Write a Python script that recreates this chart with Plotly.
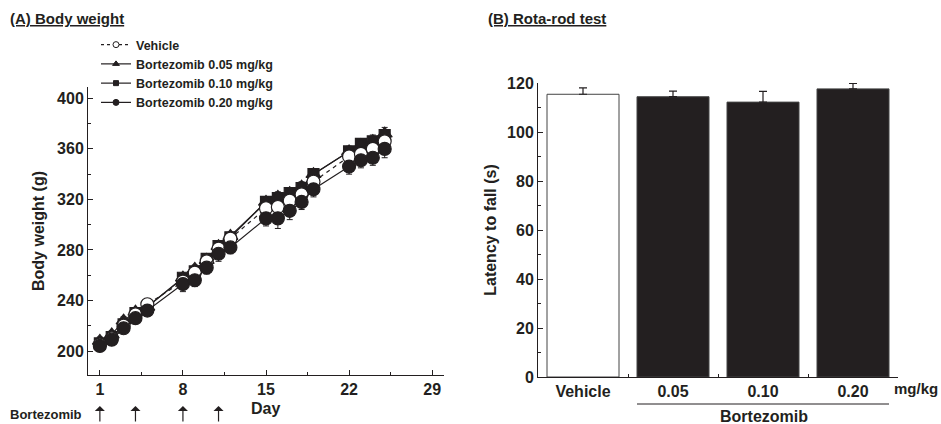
import plotly.graph_objects as go

# ---------------- Data ----------------
days = [1, 2, 3, 4, 5, 8, 9, 10, 11, 12, 15, 16, 17, 18, 19, 22, 23, 24, 25]

vehicle = [205, 210, 220, 229, 237, 255, 262, 271, 281, 289, 313, 314, 319, 324, 334, 354, 356, 360, 366]
bz005 = [208, 213, 224, 231, 235, 258, 265, 272, 283, 291, 318, 322, 325, 330, 340, 358, 363, 366, 372]
bz010 = [206, 211, 221, 230, 235, 258, 263, 273, 283, 290, 318, 321, 325, 329, 340, 358, 364, 366, 371]
bz020 = [204, 209, 218, 226, 232, 253, 256, 266, 277, 282, 305, 305, 311, 318, 328, 346, 351, 353, 360]

vehicle_err = [3, 3, 3, 3, 3, 3, 3, 3, 3, 3, 4, 4, 4, 4, 4, 4, 4, 4, 4]
bz005_err = [3, 3, 3, 3, 3, 3, 3, 3, 3, 3, 4, 4, 4, 4, 4, 4, 4, 5, 5]
bz010_err = [3, 3, 3, 3, 3, 3, 3, 3, 3, 3, 4, 4, 4, 4, 4, 4, 4, 4, 4]
bz020_err = [3, 3, 3, 3, 3, 6, 5, 5, 6, 5, 6, 8, 7, 6, 6, 6, 6, 6, 7]

groups = ["Vehicle", "0.05", "0.10", "0.20"]
latency = [115.4, 114.4, 112.2, 117.6]
latency_err = [2.6, 2.3, 4.4, 2.2]

day_ticks = [1, 8, 15, 22, 29]
dose_days = [1, 4, 8, 11]

# ---------------- Figure ----------------
W, H = 941, 424
INK = "#231f20"
FONT = "Liberation Sans, Arial, sans-serif"


def px(y):
    return 1 - y / H


fig = go.Figure()

zeros = [0] * len(days)
series = [
    ("Bortezomib 0.10 mg/kg", bz010, "square", INK, "solid", dict(array=bz010_err, symmetric=False, arrayminus=zeros)),
    ("Bortezomib 0.05 mg/kg", bz005, "triangle-up", INK, "solid", dict(array=bz005_err, symmetric=False, arrayminus=zeros)),
    ("Vehicle", vehicle, "circle", "white", "dash", dict(array=vehicle_err, symmetric=False, arrayminus=zeros)),
    ("Bortezomib 0.20 mg/kg", bz020, "circle", INK, "solid", dict(array=zeros, symmetric=False, arrayminus=bz020_err)),
]

for name, vals, sym, fill, dash, eb in series:
    fig.add_trace(go.Scatter(
        x=days, y=vals, mode="lines+markers", name=name, showlegend=False,
        line=dict(color=INK, width=1.2, dash="4px,4px" if dash == "dash" else "solid"),
        marker=dict(symbol=sym, size=13 if sym != "square" else 11, color=fill,
                    line=dict(color=INK, width=1.2)),
        error_y=dict(type="data", color=INK, thickness=1, width=3, **eb),
        xaxis="x", yaxis="y",
    ))

# legend-only entries (smaller markers, legend order)
legend_items = [
    ("Vehicle", "circle", "white", "3px,3px"),
    ("Bortezomib 0.05 mg/kg", "triangle-up", INK, "solid"),
    ("Bortezomib 0.10 mg/kg", "square", INK, "solid"),
    ("Bortezomib 0.20 mg/kg", "circle", INK, "solid"),
]
for name, sym, fill, dash in legend_items:
    fig.add_trace(go.Scatter(
        x=[None], y=[None], mode="lines+markers", name=name, showlegend=True,
        line=dict(color=INK, width=1.2, dash=dash),
        marker=dict(symbol=sym, size=6 if sym != "square" else 5, color=fill, line=dict(color=INK, width=1)),
        xaxis="x", yaxis="y",
    ))

# Bars
fig.add_trace(go.Bar(
    x=groups, y=latency, showlegend=False,
    marker=dict(color=["white", INK, INK, INK], line=dict(color="#444444", width=1)),
    width=0.8,
    error_y=dict(type="data", array=latency_err, arrayminus=[0] * 4, symmetric=False,
                 color=INK, thickness=1.2, width=4),
    xaxis="x2", yaxis="y2",
))

axis_common = dict(showline=True, linecolor=INK, linewidth=1, showgrid=False, zeroline=False,
                   ticks="inside", tickcolor=INK, ticklen=5, tickwidth=1, automargin=False,
                   tickfont=dict(family=FONT, size=16, color=INK, weight="bold"))

fig.update_layout(
    width=W, height=H,
    margin=dict(l=0, r=0, t=0, b=0),
    paper_bgcolor="white", plot_bgcolor="white",
    font=dict(family=FONT, color=INK),
    bargap=0.2,
    xaxis=dict(domain=[88 / W, 444 / W], range=[0, 30], tickmode="array", tickvals=day_ticks,
               minor=dict(tickvals=[4.5, 11.5, 18.5, 25.5], ticks="inside", ticklen=3, tickcolor=INK),
               anchor="y", **axis_common),
    yaxis=dict(domain=[px(375), px(87)], range=[181, 409], tickmode="linear", tick0=200, dtick=40,
               minor=dict(dtick=20, tick0=200, ticks="inside", ticklen=3, tickcolor=INK),
               anchor="x",
               title=dict(text="Body weight (g)", font=dict(family=FONT, size=16, color=INK, weight="bold"),
                          standoff=8),
               **axis_common),
    xaxis2=dict(domain=[538 / W, 898 / W], range=[-0.5, 3.5], type="category",
                tickson="boundaries", anchor="y2",
                **{**axis_common, "ticklen": 3}),
    yaxis2=dict(domain=[px(377), px(83)], range=[0, 120], tickmode="linear", tick0=0, dtick=20,
                minor=dict(dtick=10, ticks="inside", ticklen=3, tickcolor=INK),
                anchor="x2",
                title=dict(text="Latency to fall (s)", font=dict(family=FONT, size=16, color=INK, weight="bold"),
                           standoff=6),
                **axis_common),
    legend=dict(x=96 / W, y=px(30), xanchor="left", yanchor="top", bgcolor="rgba(0,0,0,0)",
                font=dict(family=FONT, size=12.5, color=INK, weight="bold"),
                tracegroupgap=0, itemwidth=30),
)

annots = [
    dict(text="<u>(A) Body weight</u>", x=8 / W, y=px(18), xanchor="left", yanchor="middle", size=15),
    dict(text="<u>(B) Rota-rod test</u>", x=486 / W, y=px(18), xanchor="left", yanchor="middle", size=15),
    dict(text="Day", x=265 / W, y=px(408), xanchor="center", yanchor="middle", size=16),
    dict(text="Bortezomib", x=8 / W, y=px(414), xanchor="left", yanchor="middle", size=13),
    dict(text="mg/kg", x=940 / W, y=px(388), xanchor="right", yanchor="middle", size=15),
    dict(text="Bortezomib", x=763.5 / W, y=px(416), xanchor="center", yanchor="middle", size=16),
]
for a in annots:
    size = a.pop("size")
    fig.add_annotation(xref="paper", yref="paper", showarrow=False,
                       font=dict(family=FONT, color=INK, weight="bold", size=size), **a)

for d in dose_days:
    fig.add_annotation(x=d, xref="x", y=px(406), yref="paper", text="", showarrow=True,
                       ax=0, ay=17, axref="pixel", ayref="pixel",
                       arrowhead=1, arrowsize=1.4, arrowwidth=1.2, arrowcolor=INK)

fig.add_shape(type="line", xref="x2", yref="paper", x0=0.6, x1=3.4, y0=px(404), y1=px(404),
              line=dict(color=INK, width=1))

fig.write_html("out.html", config={"displayModeBar": False},
               post_script="document.body.style.margin='0';")
